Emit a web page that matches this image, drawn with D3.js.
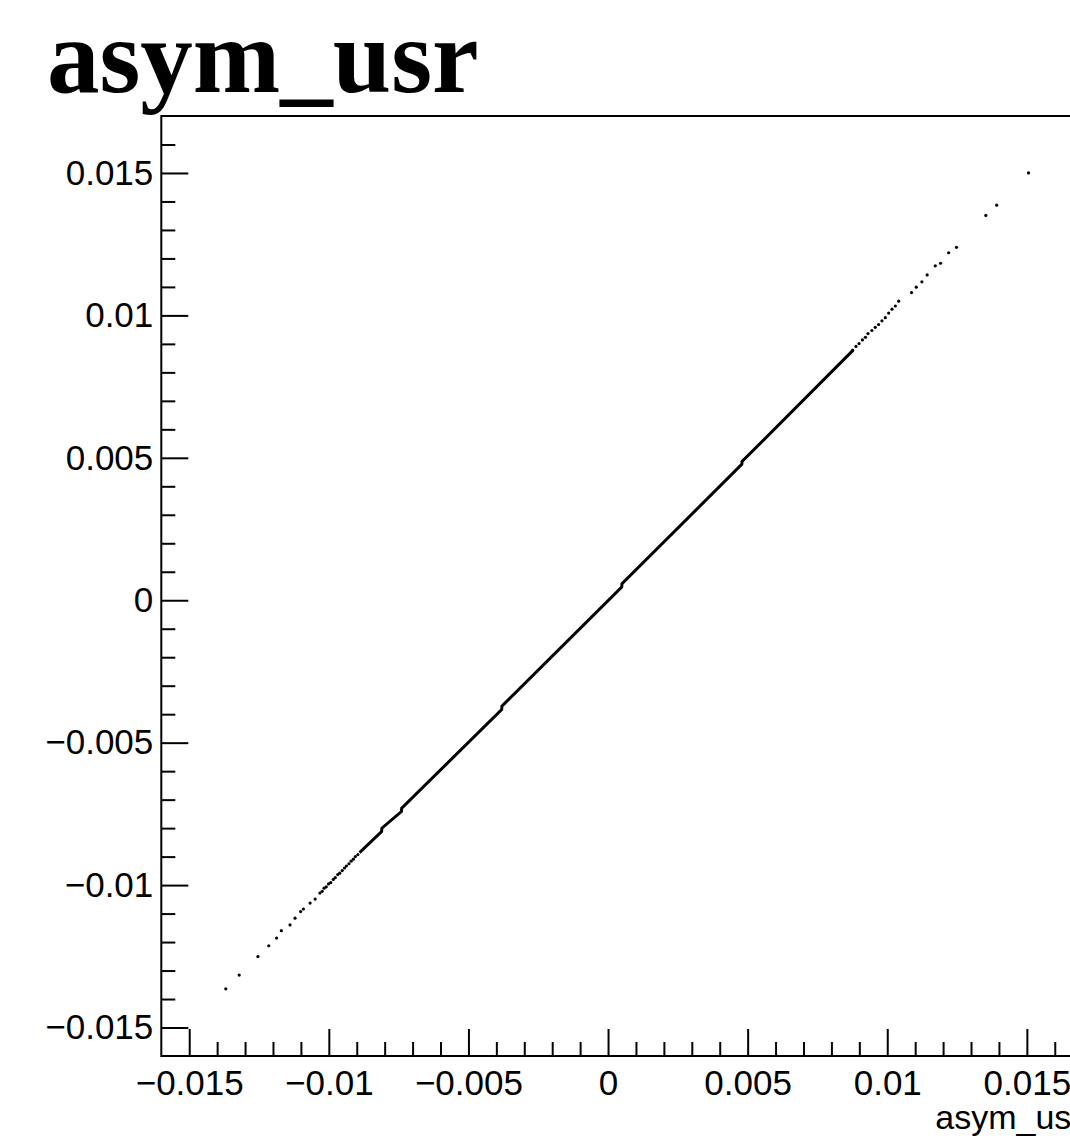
<!DOCTYPE html>
<html>
<head>
<meta charset="utf-8">
<script src="https://cdnjs.cloudflare.com/ajax/libs/d3/7.8.5/d3.min.js"></script>
<style>
  body { margin: 0; background: #fff; }
  svg { display: block; }
</style>
</head>
<body>
<script>
// chart text
var chartTitle = "asym_usr";
var xTitle = "asym_usr";

// axis ranges and ticks
var xDomain = [-0.016, 0.017];
var yDomain = [-0.016, 0.017];
var xTicks = [-0.015, -0.01, -0.005, 0, 0.005, 0.01, 0.015];
var xTickLabels = ["\u22120.015", "\u22120.01", "\u22120.005", "0", "0.005", "0.01", "0.015"];
var yTicks = [-0.015, -0.01, -0.005, 0, 0.005, 0.01, 0.015];
var yTickLabels = ["\u22120.015", "\u22120.01", "\u22120.005", "0", "0.005", "0.01", "0.015"];
var xMinorTicks = [-0.014, -0.013, -0.012, -0.011, -0.009, -0.008, -0.007, -0.006,
  -0.004, -0.003, -0.002, -0.001, 0.001, 0.002, 0.003, 0.004, 0.006, 0.007, 0.008,
  0.009, 0.011, 0.012, 0.013, 0.014, 0.016];
var yMinorTicks = [-0.014, -0.013, -0.012, -0.011, -0.009, -0.008, -0.007, -0.006,
  -0.004, -0.003, -0.002, -0.001, 0.001, 0.002, 0.003, 0.004, 0.006, 0.007, 0.008,
  0.009, 0.011, 0.012, 0.013, 0.014, 0.016];

// dense middle of the scatter (read as a run of points, with its small jogs)
var corePoints = [
  [-0.00890, -0.00886],
  [-0.00811, -0.00812],
  [-0.00810, -0.00800],
  [-0.00740, -0.00742],
  [-0.00739, -0.00730],
  [-0.00381, -0.00384],
  [-0.00380, -0.00372],
  [0.00049, 0.00046],
  [0.00050, 0.00058],
  [0.00479, 0.00477],
  [0.00480, 0.00487],
  [0.00878, 0.00878]
];

// lower tail
var lowerSparse = [
  [-0.01369, -0.01364], [-0.01321, -0.01316], [-0.01254, -0.01251],
  [-0.01215, -0.01213], [-0.01187, -0.01186], [-0.01170, -0.01160],
  [-0.01139, -0.01140], [-0.01121, -0.01116], [-0.01101, -0.01093],
  [-0.01091, -0.01084], [-0.01067, -0.01063], [-0.01049, -0.01049]
];
var lowerDotted = [
  [-0.01032, -0.01028], [-0.01024, -0.01022], [-0.01017, -0.01011],
  [-0.01009, -0.01006], [-0.01001, -0.00996], [-0.00993, -0.00991],
  [-0.00984, -0.00980], [-0.00977, -0.00974], [-0.00968, -0.00963],
  [-0.00961, -0.00958], [-0.00952, -0.00949], [-0.00944, -0.00940],
  [-0.00937, -0.00933], [-0.00928, -0.00925], [-0.00920, -0.00916],
  [-0.00912, -0.00909], [-0.00905, -0.00900], [-0.00896, -0.00893]
];

// upper tail
var upperDotted = [
  [0.00876, 0.00878], [0.00888, 0.00891], [0.00899, 0.00901],
  [0.00911, 0.00914], [0.00922, 0.00923], [0.00931, 0.00936],
  [0.00945, 0.00947], [0.00957, 0.00958], [0.00969, 0.00968],
  [0.00981, 0.00981], [0.00993, 0.00992], [0.01005, 0.01008],
  [0.01017, 0.01022], [0.01029, 0.01033], [0.01041, 0.01050]
];
var upperSparse = [
  [0.01087, 0.01080], [0.01104, 0.01099], [0.01124, 0.01118],
  [0.01143, 0.01142], [0.01172, 0.01174], [0.01191, 0.01183],
  [0.01220, 0.01220], [0.01248, 0.01239], [0.01353, 0.01351],
  [0.01392, 0.01387], [0.01506, 0.01500]
];

// set up chart area (frame runs past the right edge of the page)
var svgWidth = 1070, svgHeight = 1144;
var margin = { top: 116, left: 161.3 };
var width = 921.4;
var height = 940;

var svg = d3.select('body').append('svg')
  .attr('width', svgWidth)
  .attr('height', svgHeight);

var xScale = d3.scaleLinear().domain(xDomain).range([margin.left, margin.left + width]);
var yScale = d3.scaleLinear().domain(yDomain).range([margin.top + height, margin.top]);

// title
svg.append('text')
  .attr('x', 47)
  .attr('y', 92)
  .style('font-family', '"Liberation Serif", "Times New Roman", serif')
  .style('font-weight', 'bold')
  .style('font-size', '105px')
  .text(chartTitle);

// frame
svg.append('rect')
  .attr('x', margin.left)
  .attr('y', margin.top)
  .attr('width', width)
  .attr('height', height)
  .attr('fill', 'none')
  .attr('stroke', '#000')
  .attr('stroke-width', 2);

var tickFont = '"Liberation Sans", Arial, Helvetica, sans-serif';

// x axis major ticks
var xAxis = d3.axisBottom(xScale)
  .tickValues(xTicks)
  .tickFormat(function(d, i) { return xTickLabels[i]; })
  .tickSizeInner(-27)
  .tickSizeOuter(0)
  .tickPadding(14);

svg.append('g')
  .attr('class', 'x axis')
  .attr('transform', 'translate(0,' + (margin.top + height) + ')')
  .call(xAxis);

// x minor ticks
svg.append('g')
  .attr('class', 'x minor')
  .attr('transform', 'translate(0,' + (margin.top + height) + ')')
  .call(d3.axisBottom(xScale).tickValues(xMinorTicks).tickFormat('').tickSizeInner(-14).tickSizeOuter(0));

// y axis major ticks
var yAxis = d3.axisLeft(yScale)
  .tickValues(yTicks)
  .tickFormat(function(d, i) { return yTickLabels[i]; })
  .tickSizeInner(-27)
  .tickSizeOuter(0)
  .tickPadding(8);

svg.append('g')
  .attr('class', 'y axis')
  .attr('transform', 'translate(' + margin.left + ',0)')
  .call(yAxis);

// y minor ticks
svg.append('g')
  .attr('class', 'y minor')
  .attr('transform', 'translate(' + margin.left + ',0)')
  .call(d3.axisLeft(yScale).tickValues(yMinorTicks).tickFormat('').tickSizeInner(-14).tickSizeOuter(0));

svg.selectAll('.axis .domain, .minor .domain').remove();
svg.selectAll('.axis line, .minor line')
  .attr('stroke', '#000')
  .attr('stroke-width', 2);
svg.selectAll('.axis text')
  .style('font-family', tickFont)
  .style('font-size', '35px')
  .attr('fill', '#000');

// x axis title
svg.append('text')
  .attr('x', margin.left + width)
  .attr('y', 1129)
  .attr('text-anchor', 'end')
  .style('font-family', tickFont)
  .style('font-size', '34px')
  .text(xTitle);

// dense run of points
var line = d3.line()
  .x(function(d) { return xScale(d[0]); })
  .y(function(d) { return yScale(d[1]); });

svg.append('path')
  .datum(corePoints)
  .attr('d', line)
  .attr('fill', 'none')
  .attr('stroke', '#000')
  .attr('stroke-width', 3);

// single points
var dots = lowerSparse.concat(lowerDotted, upperDotted, upperSparse);
svg.append('g')
  .selectAll('circle')
  .data(dots)
  .enter().append('circle')
  .attr('cx', function(d) { return xScale(d[0]); })
  .attr('cy', function(d) { return yScale(d[1]); })
  .attr('r', 1.6)
  .attr('fill', '#000');
</script>
</body>
</html>
